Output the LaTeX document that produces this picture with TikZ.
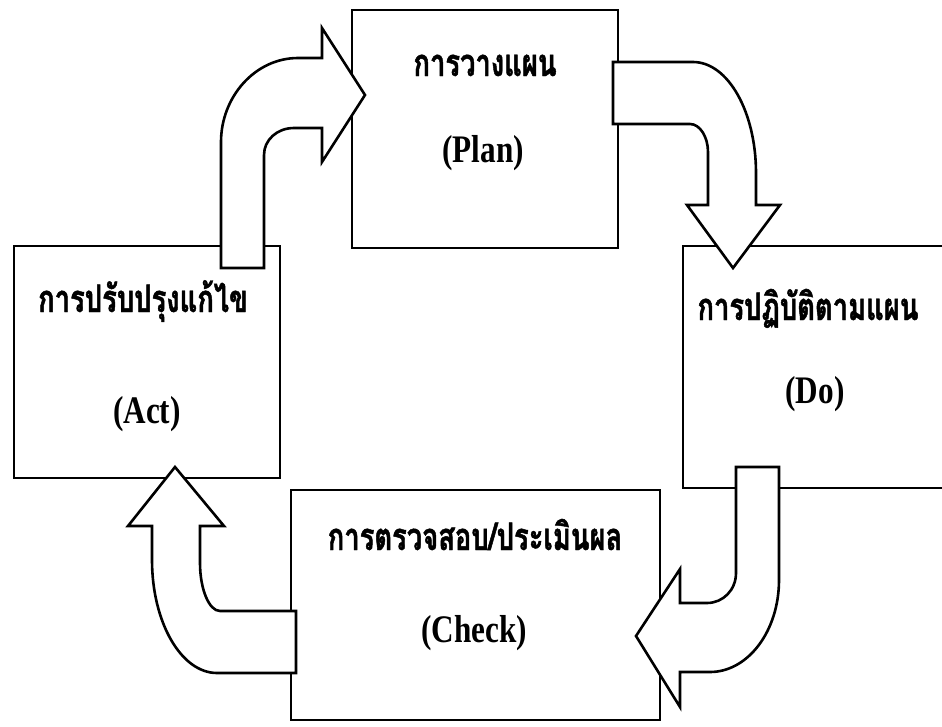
\documentclass[tikz,border=0pt]{standalone}
\usepackage{fontspec}
\newfontfamily\latinfont{Liberation Serif}[FakeStretch=0.8]
\newfontfamily\thaifont[Script=Thai,FakeStretch=0.72,FakeBold=1.2]{Loma}
\tikzset{
  box/.style={draw, line width=2.6pt, fill=white, inner sep=0pt},
  thtext/.style={anchor=base, inner sep=0pt, font=\thaifont\bfseries\fontsize{38}{40}\selectfont},
  entext/.style={anchor=base, inner sep=0pt, font=\latinfont\bfseries\fontsize{39}{41}\selectfont},
  blockarrow/.style={draw, line width=2.6pt, fill=white, line join=miter}
}
\begin{document}
\begin{tikzpicture}[x=1pt, y=-1pt]
\useasboundingbox (0,0) rectangle (942,726);
\clip (0,0) rectangle (942,726);
% boxes
\node[box, minimum width=266pt, minimum height=238pt] (plan) at (485,129) {};
\node[box, minimum width=266pt, minimum height=232pt] (act) at (147,362) {};
\node[box, minimum width=266pt, minimum height=242pt] (do) at (816,367) {};
\node[box, minimum width=369pt, minimum height=230pt] (check) at (475.5,605) {};
% texts
\node[thtext] (planth) at (485,76) {การวางแผน};
\node[entext] (planen) at (483,162) {(Plan)};
\node[thtext] (actth) at (143,312) {การปรับปรุงแก้ไข};
\node[entext] (acten) at (147,423) {(Act)};
\node[thtext] (doth) at (808,320) {การปฏิบัติตามแผน};
\node[entext] (doen) at (815,403) {(Do)};
\node[thtext] (checkth) at (475,550) {การตรวจสอบ/ประเมินผล};
\node[entext] (checken) at (474,642) {(Check)};
% block arrows
% Act -> Plan
\draw[blockarrow] (221,268) -- (221,142) .. controls (221,97) and (255,58) .. (298,58)
  -- (322,58) -- (322,28) -- (365,95) -- (322,162) -- (322,128) -- (294,128)
  .. controls (277,128) and (264,140) .. (264,155) -- (264,268) -- cycle;
% Plan -> Do
\draw[blockarrow] (613,62) -- (693,62) .. controls (728,62) and (756,112) .. (756,173)
  -- (756,205) -- (780,205) -- (733,268) -- (687,205) -- (708,205) -- (708,152)
  .. controls (708,137) and (700,124) .. (690,124) -- (613,124) -- cycle;
% Do -> Check
\draw[blockarrow] (736,467) -- (779,467) -- (779,580) .. controls (779,631) and (748,672) .. (710,672)
  -- (680,672) -- (680,707) -- (636,636) -- (680,569) -- (680,603) -- (707,603)
  .. controls (723,603) and (736,590) .. (736,573) -- cycle;
% Check -> Act
\draw[blockarrow] (296,611) -- (220,611) .. controls (209,611) and (200,589) .. (200,563)
  -- (200,526) -- (224,526) -- (175,467) -- (128,526) -- (152,526) -- (152,560)
  .. controls (152,622) and (181,673) .. (217,673) -- (296,673) -- cycle;
\end{tikzpicture}
\end{document}
